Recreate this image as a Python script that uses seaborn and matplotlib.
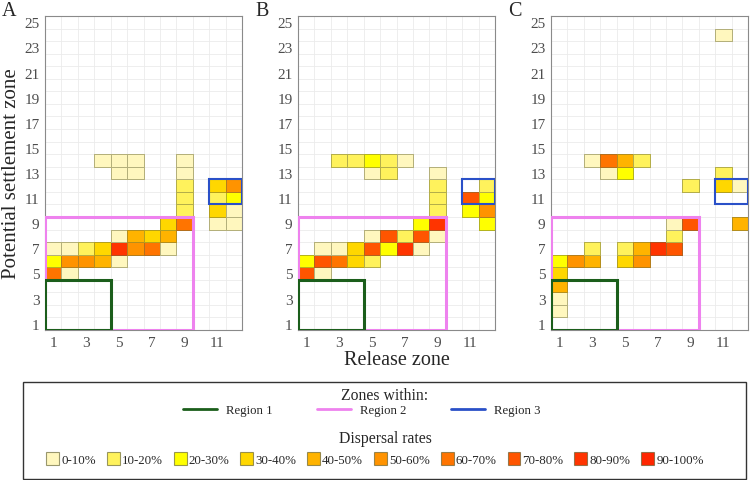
import numpy as np
import pandas as pd
import seaborn as sns
import matplotlib.pyplot as plt
from matplotlib.colors import ListedColormap, to_rgba
from matplotlib.patches import Rectangle, Patch
from matplotlib.lines import Line2D

sns.set_theme(style='white')
plt.rcParams['font.family'] = ['Liberation Serif', 'DejaVu Serif']

release_zones = list(range(1, 13))
settle_zones = list(range(1, 26))

rate_labels = ['0-10%', '10-20%', '20-30%', '30-40%', '40-50%',
               '50-60%', '60-70%', '70-80%', '80-90%', '90-100%']
rate_colors = ['#FFF7BE', '#FFF25C', '#FFFF00', '#FFD700', '#FFB300',
               '#FF9300', '#FF7400', '#FF5500', '#FF3400', '#FF2600']

# panel A: release zone, settlement zone, rate class
a_release = [1, 2, 1, 2, 3, 4, 5, 1, 2, 3, 4, 5, 6, 7, 8, 5, 6, 7, 8, 8, 9,
             9, 9, 9, 9, 9, 4, 5, 6, 5, 6, 11, 11, 11, 11, 12, 12, 12, 12]
a_settle = [5, 5, 6, 6, 6, 6, 6, 7, 7, 7, 7, 7, 7, 7, 7, 8, 8, 8, 8, 9, 9,
            10, 11, 12, 13, 14, 14, 14, 14, 13, 13, 9, 10, 11, 12, 9, 10, 11, 12]
a_rate = [6, 0, 2, 5, 5, 4, 0, 0, 0, 1, 3, 8, 5, 6, 0, 0, 4, 3, 4, 3, 6,
          1, 1, 1, 0, 0, 0, 0, 0, 0, 0, 0, 3, 1, 3, 0, 0, 2, 5]

# panel B
b_release = [1, 2, 1, 2, 3, 4, 5, 2, 3, 4, 5, 6, 7, 8, 5, 6, 7, 8, 9, 8, 9,
             9, 9, 9, 9, 3, 4, 5, 6, 7, 5, 6, 11, 11, 12, 12, 12, 12]
b_settle = [5, 5, 6, 6, 6, 6, 6, 7, 7, 7, 7, 7, 7, 7, 8, 8, 8, 8, 8, 9, 9,
            10, 11, 12, 13, 14, 14, 14, 14, 14, 13, 13, 10, 11, 9, 10, 11, 12]
b_rate = [7, 0, 2, 7, 6, 3, 1, 0, 0, 3, 7, 2, 8, 0, 0, 7, 1, 7, 0, 2, 8,
          1, 1, 1, 0, 1, 1, 2, 1, 0, 0, 1, 2, 7, 2, 5, 2, 1]

# panel C
c_release = [1, 1, 1, 1, 1, 2, 3, 5, 6, 3, 5, 6, 7, 8, 8, 8, 9,
             3, 4, 5, 6, 4, 5, 9, 11, 12, 11, 11, 12]
c_settle = [2, 3, 4, 5, 6, 6, 6, 6, 6, 7, 7, 7, 7, 7, 8, 9, 9,
            14, 14, 14, 14, 13, 13, 12, 12, 12, 13, 24, 9]
c_rate = [0, 0, 4, 3, 2, 5, 4, 3, 5, 1, 1, 4, 8, 7, 1, 0, 7,
          0, 6, 4, 1, 0, 2, 1, 3, 0, 1, 0, 4]

region_names = ['Region 1', 'Region 2', 'Region 3']
region_colors = ['#1B5E1B', '#EE82EE', '#2A50C8']
region_widths = [2.2, 2.2, 1.5]
region_release = [(1, 4), (1, 9), (11, 12)]
region_settle = [(1, 4), (1, 9), (11, 12)]

panels = [('A', a_release, a_settle, a_rate),
          ('B', b_release, b_settle, b_rate),
          ('C', c_release, c_settle, c_rate)]

fig = plt.figure(figsize=(7.5, 4.81), dpi=100)
W, H = 750, 481
lefts = [45, 298, 551]
cmap = ListedColormap(rate_colors)
cell_edge = to_rgba('#6B6B3A', 0.5)

for (letter, rel, sett, rate), left in zip(panels, lefts):
    ax = fig.add_axes([left / W, 1 - 331 / H, 197 / W, 314 / H])
    df = pd.DataFrame({'release': rel, 'settle': sett, 'rate': rate})
    mat = df.pivot(index='settle', columns='release', values='rate')
    mat = mat.reindex(index=settle_zones, columns=release_zones).astype(float)
    sns.heatmap(mat, ax=ax, cmap=cmap, vmin=-0.5, vmax=9.5, cbar=False,
                linewidths=0.5, xticklabels=False, yticklabels=False)
    # outline only the filled tiles
    mesh = ax.collections[0]
    filled = ~np.isnan(mat.values.ravel())
    mesh.set_edgecolor([cell_edge if f else (0, 0, 0, 0) for f in filled])

    ax.set_xlim(0, len(release_zones))
    ax.set_ylim(0, len(settle_zones))

    ax.set_xticks([z - 0.5 for z in release_zones[::2]])
    ax.set_xticklabels([str(z) for z in release_zones[::2]])
    ax.set_yticks([z - 0.5 for z in settle_zones[::2]])
    ax.set_yticklabels([str(z) for z in settle_zones[::2]])
    ax.set_xticks(np.arange(0, len(release_zones) + 1), minor=True)
    ax.set_yticks(np.arange(0, len(settle_zones) + 1), minor=True)
    ax.grid(which='minor', color='#EBEBEB', lw=0.6)
    ax.grid(which='major', visible=False)
    ax.set_axisbelow(True)
    ax.tick_params(which='major', length=3, width=0.6, color='#333333',
                   labelsize=11, labelcolor='#4D4D4D', pad=1)
    ax.tick_params(which='minor', length=0)
    ax.set_xlabel('')
    ax.set_ylabel('')
    for s in ax.spines.values():
        s.set_visible(True)
        s.set_color('#8A8A8A')
        s.set_linewidth(0.8)

    for i in [1, 0, 2]:
        (x0, x1), (y0, y1) = region_release[i], region_settle[i]
        ax.add_patch(Rectangle((x0 - 1, y0 - 1), x1 - x0 + 1, y1 - y0 + 1,
                               fill=False, ec=region_colors[i],
                               lw=region_widths[i], zorder=5))

    fig.text((left - 43) / W, 1 - 11 / H, letter, fontsize=14.5,
             ha='left', va='center')

    if letter == 'A':
        ax.set_ylabel('Potential settlement zone', fontsize=15, labelpad=2)
    if letter == 'B':
        ax.set_xlabel('Release zone', fontsize=14.5, labelpad=1)

# legend box
fig.add_artist(Rectangle((23 / W, 1 / H), 723 / W, 97 / H,
                         transform=fig.transFigure, fill=False,
                         ec='#333333', lw=1))
fig.text(385 / W, 1 - 396 / H, 'Zones within:', fontsize=11.3,
         ha='center', va='center')
fig.text(385 / W, 1 - 439 / H, 'Dispersal rates', fontsize=11.3,
         ha='center', va='center')

line_handles = [Line2D([], [], color=c, lw=2) for c in region_colors]
fig.legend(line_handles, region_names, loc='center',
           bbox_to_anchor=(362 / W, 1 - 411 / H), ncol=3, frameon=False,
           fontsize=9.2, handlelength=2.64, handletextpad=0.72,
           columnspacing=3.5, borderpad=0, borderaxespad=0)

patch_handles = [Patch(facecolor=c, edgecolor='#55552299', lw=0.8)
                 for c in rate_colors]
fig.legend(patch_handles, rate_labels, loc='center',
           bbox_to_anchor=(375 / W, 1 - 460 / H), ncol=10, frameon=False,
           fontsize=9.3, handlelength=1.0, handleheight=1.1,
           handletextpad=0.15, columnspacing=0.85, borderpad=0,
           borderaxespad=0)

fig.savefig('out.png', dpi=100)
